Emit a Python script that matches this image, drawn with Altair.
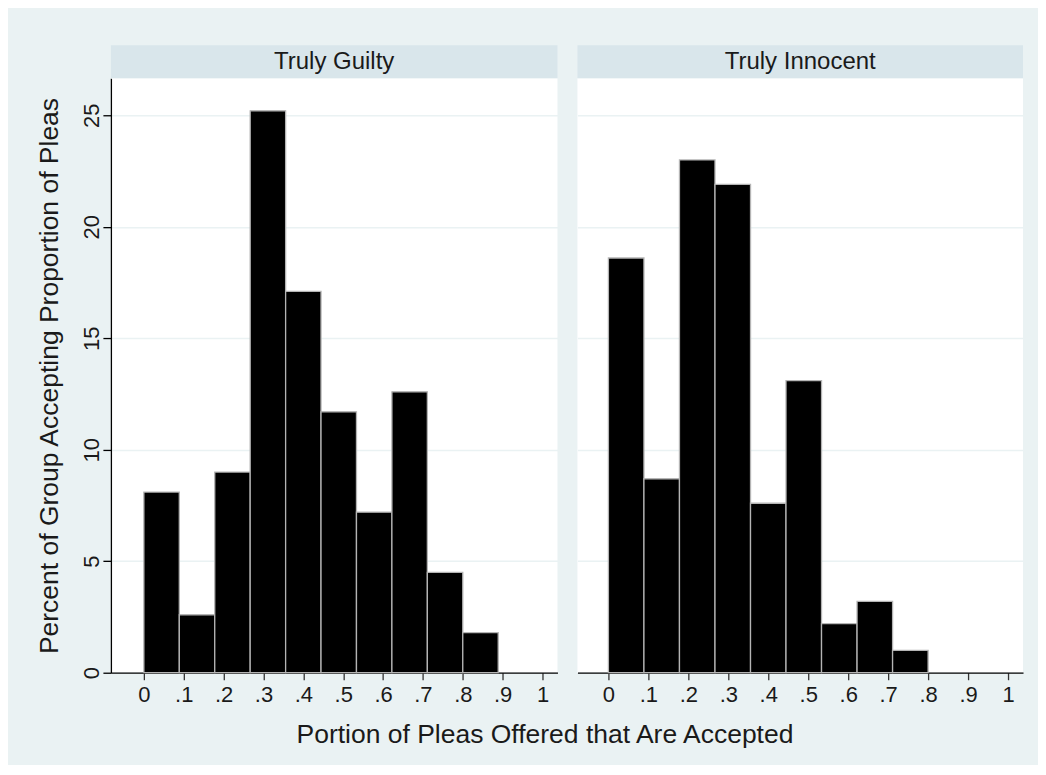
import altair as alt
import pandas as pd

# ---- data ----
bin_edges = [0.0, 0.0889, 0.1778, 0.2667, 0.3556, 0.4444, 0.5333, 0.6222, 0.7111, 0.8, 0.8889]
guilty_pct = [8.1, 2.6, 9.0, 25.2, 17.1, 11.7, 7.2, 12.6, 4.5, 1.8]
innocent_pct = [18.6, 8.7, 23.0, 21.9, 7.6, 13.1, 2.2, 3.2, 1.0]
panel_titles = ["Truly Guilty", "Truly Innocent"]
x_ticks = [0, 0.1, 0.2, 0.3, 0.4, 0.5, 0.6, 0.7, 0.8, 0.9, 1.0]
y_ticks = [0, 5, 10, 15, 20, 25]
y_title = "Percent of Group Accepting Proportion of Pleas"
x_title = "Portion of Pleas Offered that Are Accepted"

FONT = "Liberation Sans"
BG = "#EAF2F3"
HEADER = "#D9E6EB"
TXT = "#1a1a1a"
H = 595


def frame(vals):
    n = len(vals)
    return pd.DataFrame({"start": bin_edges[:n], "end": bin_edges[1:n + 1], "pct": vals})


x_axis = alt.Axis(values=x_ticks, title=None, grid=False,
                  labelExpr="datum.value == 0 ? '0' : (datum.value >= 1 ? '1' : '.' + round(datum.value * 10))",
                  tickSize=7, tickColor="#333333", tickWidth=1.3,
                  domainColor="#000000", domainWidth=1.3,
                  labelFontSize=22, labelPadding=5, labelColor=TXT, labelFont=FONT)


def panel(vals, title, width, xmin, left):
    df = frame(vals)
    if left:
        y_axis = alt.Axis(values=y_ticks, title=y_title, grid=True, gridColor=BG, gridWidth=1.5,
                          labelAngle=270, labelAlign="center", labelBaseline="alphabetic",
                          labelPadding=4, labelFontSize=22, labelColor=TXT, labelFont=FONT,
                          tickSize=8, tickColor="#000000", tickWidth=1.3,
                          domainColor="#000000", domainWidth=1.3,
                          titleFontSize=26.5, titleFontWeight="normal", titleFont=FONT,
                          titleColor=TXT, titlePadding=17)
    else:
        y_axis = alt.Axis(values=y_ticks, title=None, grid=True, gridColor=BG, gridWidth=1.5,
                          labels=False, ticks=False, domain=False)
    bars = alt.Chart(df).mark_rect(color="black", stroke="#b4b4b4", strokeWidth=1.3).encode(
        x=alt.X("start:Q", scale=alt.Scale(domain=[xmin, 1.0375], nice=False, zero=False), axis=x_axis),
        x2="end:Q",
        y=alt.Y("pct:Q", scale=alt.Scale(domain=[0, 26.66], nice=False), axis=y_axis),
        y2=alt.datum(0),
    )
    head = alt.Chart(pd.DataFrame({"t": [title]})).mark_rect(color=HEADER).encode(
        x=alt.value(0), x2=alt.value(width), y=alt.value(-33), y2=alt.value(0)
    )
    head_txt = alt.Chart(pd.DataFrame({"t": [title]})).mark_text(
        font=FONT, fontSize=24, color=TXT, align="center", baseline="middle"
    ).encode(x=alt.value(width / 2), y=alt.value(-16), text="t:N")
    return alt.layer(head, bars, head_txt).properties(width=width, height=H)


left = panel(guilty_pct, panel_titles[0], 447, -0.0827, True)
right = panel(innocent_pct, panel_titles[1], 446, -0.0775, False)

chart = alt.hconcat(left, right, spacing=20, bounds="flush").properties(
    title=alt.TitleParams(x_title, orient="bottom", anchor="middle", fontSize=26.5,
                          fontWeight="normal", font=FONT, color=TXT, offset=16, dx=15)
).configure(
    background=BG,
    padding={"left": 29, "top": 37, "right": 15, "bottom": 16},
).configure_view(fill="white", strokeWidth=0)

chart.save("out.html", embed_options={"renderer": "svg", "actions": False})
